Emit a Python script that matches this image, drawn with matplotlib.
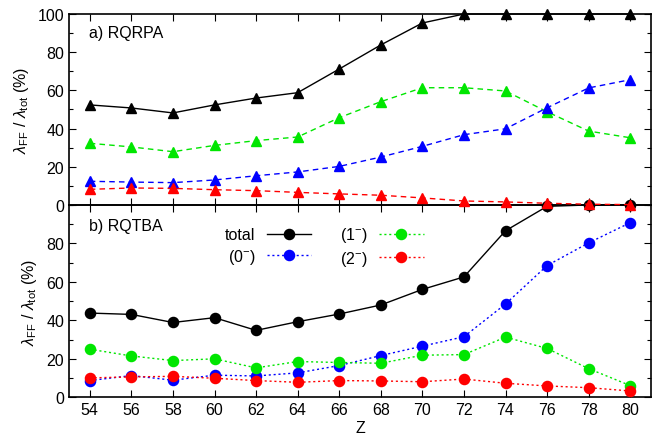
import matplotlib
matplotlib.use("Agg")
import matplotlib.pyplot as plt
from matplotlib.ticker import MultipleLocator

plt.rcParams['font.family'] = ['Liberation Sans', 'DejaVu Sans']
plt.rcParams['mathtext.fontset'] = 'custom'
plt.rcParams['mathtext.rm'] = 'Liberation Sans'
plt.rcParams['mathtext.it'] = 'Liberation Sans:italic'
plt.rcParams['font.size'] = 11.5

Z = [54, 56, 58, 60, 62, 64, 66, 68, 70, 72, 74, 76, 78, 80]

# a) RQRPA
rpa_total = [52.4, 50.8, 48.2, 52.4, 56.0, 58.8, 71.2, 83.8, 95.3, 100, 100, 100, 100, 100]
rpa_0 = [12.4, 12.0, 11.7, 13.1, 15.3, 17.3, 20.2, 25.1, 30.7, 36.8, 39.9, 50.9, 61.3, 65.6]
rpa_1 = [32.3, 30.4, 27.9, 31.2, 33.7, 35.6, 45.7, 54.1, 61.4, 61.4, 59.7, 48.8, 38.7, 35.2]
rpa_2 = [8.2, 8.9, 8.7, 8.0, 7.5, 6.6, 5.8, 5.1, 3.7, 2.1, 1.6, 0.9, 0.4, 0.2]

# b) RQTBA
tba_total = [43.8, 43.1, 38.9, 41.4, 34.8, 39.3, 43.3, 48.0, 56.1, 62.6, 86.6, 99.3, 100, 100]
tba_0 = [8.7, 11.3, 8.9, 11.5, 11.1, 12.7, 16.5, 21.7, 26.6, 31.5, 48.5, 68.5, 80.3, 90.8]
tba_1 = [25.0, 21.5, 19.1, 20.0, 15.3, 18.6, 18.1, 17.7, 21.9, 22.2, 31.3, 25.4, 14.9, 6.1]
tba_2 = [10.1, 10.6, 10.9, 9.9, 8.7, 7.8, 8.7, 8.5, 8.1, 9.5, 7.3, 5.9, 5.0, 3.3]

GREEN = '#00e600'
BLUE = '#0000ff'
RED = '#ff0000'

fig = plt.figure(figsize=(6.61, 4.39), dpi=100)
ax2 = fig.add_axes([0.1044, 0.0927, 0.8805, 0.4381])
ax1 = fig.add_axes([0.1044, 0.5308, 0.8805, 0.4350])
ax1.set_zorder(3)
ax1.patch.set_visible(False)

ms_t = 7.0
ms_c = 7.3
dash = (0, (4, 3))
dot = (0, (1.5, 2))

# top panel
ax1.plot(Z, rpa_total, color='black', lw=1.0, marker='^', ms=ms_t, clip_on=False, zorder=5)
ax1.plot(Z, rpa_1, color=GREEN, lw=1.0, ls=dash, marker='^', ms=ms_t, clip_on=False, zorder=4)
ax1.plot(Z, rpa_0, color=BLUE, lw=1.0, ls=dash, marker='^', ms=ms_t, clip_on=False, zorder=4)
ax1.plot(Z, rpa_2, color=RED, lw=1.0, ls=dash, marker='^', ms=ms_t, clip_on=False, zorder=6)

# bottom panel
h_tot, = ax2.plot(Z, tba_total, color='black', lw=1.0, marker='o', ms=ms_c, clip_on=False, zorder=5, label='total')
h_0, = ax2.plot(Z, tba_0, color=BLUE, lw=1.0, ls=dot, marker='o', ms=ms_c, clip_on=False, zorder=4, label='(0$^{-}$)')
h_1, = ax2.plot(Z, tba_1, color=GREEN, lw=1.0, ls=dot, marker='o', ms=ms_c, clip_on=False, zorder=4, label='(1$^{-}$)')
h_2, = ax2.plot(Z, tba_2, color=RED, lw=1.0, ls=dot, marker='o', ms=ms_c, clip_on=False, zorder=4, label='(2$^{-}$)')

for ax in (ax1, ax2):
    ax.set_xlim(53, 81)
    ax.set_ylim(0, 100)
    ax.xaxis.set_major_locator(MultipleLocator(2))
    ax.yaxis.set_major_locator(MultipleLocator(20))
    ax.yaxis.set_minor_locator(MultipleLocator(10))
    ax.tick_params(which='both', direction='in', top=True, right=True, length=5, width=0.8)
    ax.tick_params(which='minor', length=3)
    for s in ax.spines.values():
        s.set_linewidth(1.2)
    ax.set_ylabel(r'$\lambda_{\rm FF}$ / $\lambda_{\rm tot}$ (%)', labelpad=5)

ax1.tick_params(axis='x', labelbottom=False)
ax2.set_yticks([0, 20, 40, 60, 80])
ax2.set_ylim(0, 100)
ax2.set_xlabel('Z', labelpad=2)

ax1.text(0.035, 0.905, 'a) RQRPA', transform=ax1.transAxes, ha='left', va='center')
ax2.text(0.035, 0.895, 'b) RQTBA', transform=ax2.transAxes, ha='left', va='center')

leg = ax2.legend(handles=[h_tot, h_0, h_1, h_2], ncol=2, markerfirst=False, frameon=False,
                 loc='upper left', bbox_to_anchor=(0.268, 0.895), borderpad=0, borderaxespad=0,
                 handlelength=2.8, columnspacing=1.8, labelspacing=0.3, handletextpad=0.7)
for t in leg.get_texts():
    t.set_ha('right')

fig.savefig('out.png', dpi=100)
